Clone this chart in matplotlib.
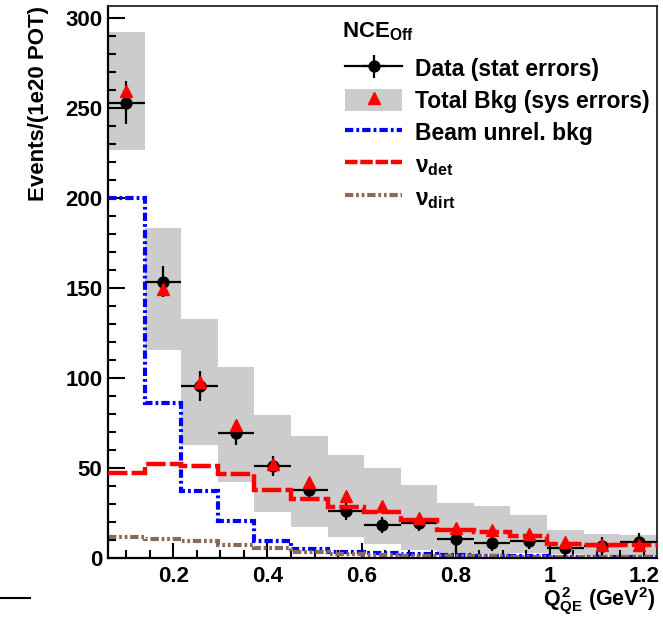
import numpy as np
import matplotlib
matplotlib.use('Agg')
import matplotlib.pyplot as plt
from matplotlib.lines import Line2D
from matplotlib.patches import Patch
from matplotlib.ticker import MultipleLocator, FuncFormatter

plt.rcParams['font.family'] = ['Liberation Sans', 'DejaVu Sans']
plt.rcParams['font.weight'] = 'bold'
plt.rcParams['axes.labelweight'] = 'bold'
plt.rcParams['mathtext.fontset'] = 'custom'
plt.rcParams['mathtext.rm'] = 'Liberation Sans:bold'
plt.rcParams['mathtext.it'] = 'Liberation Sans:bold'
plt.rcParams['mathtext.bf'] = 'Liberation Sans:bold'
plt.rcParams['mathtext.sf'] = 'Liberation Sans:bold'
plt.rcParams['lines.scale_dashes'] = False

# ---- data ----
bin_edges = [0.061, 0.139, 0.217, 0.294, 0.372, 0.450, 0.528, 0.605,
             0.683, 0.761, 0.839, 0.916, 0.994, 1.072, 1.150, 1.228]
data_vals = [253, 153.5, 95.5, 69.5, 51, 38, 26, 18.5, 19.5, 10.5, 8.5, 9.5, 5.5, 6.5, 9]
data_stat = [12, 8.5, 8.5, 6.5, 5.5, 6, 5, 4.5, 4.5, 7, 4.5, 4.5, 5, 5, 5]
total_bkg = [259.5, 149.5, 98, 74, 52.5, 42.5, 34.5, 29, 22.5, 16.5, 15.5, 13.5, 9, 7.2, 7]
bkg_sys = [33, 34, 35, 32, 27, 25.5, 23, 21, 18, 14, 13.5, 10.5, 6.5, 6.3, 6]
beam_unrel = [200, 86, 37, 20.5, 9.5, 4.8, 3.2, 2.8, 2.2, 1.5, 1.2, 1.0, 0.8, 0.8, 0.6]
nu_det = [47.5, 52, 51, 46.5, 38, 33, 28.5, 25.5, 21, 15.5, 14.5, 12, 8, 7, 7]
nu_dirt = [11.8, 10.5, 9.6, 7.2, 5.4, 3.2, 2.2, 1.5, 1.2, 1.0, 0.9, 0.8, 0.7, 0.6, 0.5]

labels = ['Data (stat errors)', 'Total Bkg (sys errors)', 'Beam unrel. bkg',
          r'$\nu_{det}$', r'$\nu_{dirt}$']
legend_title = r'NCE$_{Off}$'
xlabel = r'$Q^{2}_{QE}$ (GeV$^{2}$)'
ylabel = 'Events/(1e20 POT)'

edges = np.array(bin_edges)
centers = 0.5 * (edges[:-1] + edges[1:])
halfw = 0.5 * np.diff(edges)
bkg = np.array(total_bkg)
sys = np.array(bkg_sys)

fig = plt.figure(figsize=(6.63, 6.2), dpi=100)
ax = fig.add_axes([108 / 663, 62 / 620, 549 / 663, 552 / 620])

gray = '#cccccc'
brown = '#8a6a5a'
blue_ls = (0, (6, 2.2, 2, 2.2))
red_ls = (0, (14, 3))
brown_ls = (0, (6, 2, 2, 2, 2, 2))

ax.stairs(bkg + sys, edges, baseline=bkg - sys, fill=True, color=gray, lw=0, zorder=1)
ax.stairs(beam_unrel, edges, baseline=None, color='#0000ff', lw=3, ls=blue_ls, zorder=2)
ax.stairs(nu_dirt, edges, baseline=None, color=brown, lw=3, ls=brown_ls, zorder=2)
h_data = ax.errorbar(centers, data_vals, xerr=halfw, yerr=data_stat, fmt='o', color='black',
                     ms=7.8, elinewidth=1.6, capsize=0, zorder=3)
ax.plot(centers, bkg, ls='none', marker='^', color='red', ms=8.5, mec='red', zorder=4)
ax.stairs(nu_det, edges, baseline=None, color='red', lw=3.2, ls=red_ls, zorder=5)

ax.set_xlim(edges[0], edges[-1])
ax.set_ylim(0, 306.7)

ax.xaxis.set_major_locator(MultipleLocator(0.2))
ax.xaxis.set_minor_locator(MultipleLocator(0.05))
ax.yaxis.set_major_locator(MultipleLocator(50))
ax.yaxis.set_minor_locator(MultipleLocator(10))
ax.xaxis.set_major_formatter(FuncFormatter(lambda v, p: ('%.1f' % v).rstrip('0').rstrip('.')))
ax.yaxis.set_major_formatter(FuncFormatter(lambda v, p: '%d' % round(v)))

ax.tick_params(which='both', direction='in', top=False, right=False, width=1.5,
               labelsize=16)
ax.tick_params(axis='y', which='major', length=12, pad=4)
ax.tick_params(axis='y', which='minor', length=6)
ax.tick_params(axis='x', which='major', length=11, pad=6)
ax.tick_params(axis='x', which='minor', length=5.5)
for s in ['left', 'bottom']:
    ax.spines[s].set_linewidth(1.6)
for s in ['top', 'right']:
    ax.spines[s].set_linewidth(1.3)
    ax.spines[s].set_color('#222222')

ax.set_ylabel(ylabel, fontsize=16, loc='top')
ax.yaxis.set_label_coords(-0.108, 1.0)
ax.set_xlabel(xlabel, fontsize=15.5, loc='right')
ax.xaxis.set_label_coords(0.997, -0.05)

ax.text(0.426, 0.944, legend_title, transform=ax.transAxes, fontsize=16,
        ha='left', va='baseline')

handles = [(Line2D([], [], color='black', lw=1.6), h_data),
           (Patch(facecolor=gray, edgecolor='none'),
            Line2D([], [], ls='none', marker='^', color='red', ms=8.5)),
           Line2D([], [], color='#0000ff', lw=3, ls=blue_ls),
           Line2D([], [], color='red', lw=3.2, ls=(0, (9, 2))),
           Line2D([], [], color=brown, lw=3, ls=brown_ls)]
leg = ax.legend(handles, labels, loc='upper left', bbox_to_anchor=(0.432, 0.908),
                frameon=False, fontsize=16.5, handlelength=2.5,
                handleheight=1.1, handletextpad=0.55, labelspacing=0.36,
                borderpad=0, borderaxespad=0)

fig.add_artist(Line2D([0, 30 / 663], [1 - 598 / 620] * 2, color='black', lw=1.5,
                      transform=fig.transFigure))

fig.savefig('out.png', dpi=100)
